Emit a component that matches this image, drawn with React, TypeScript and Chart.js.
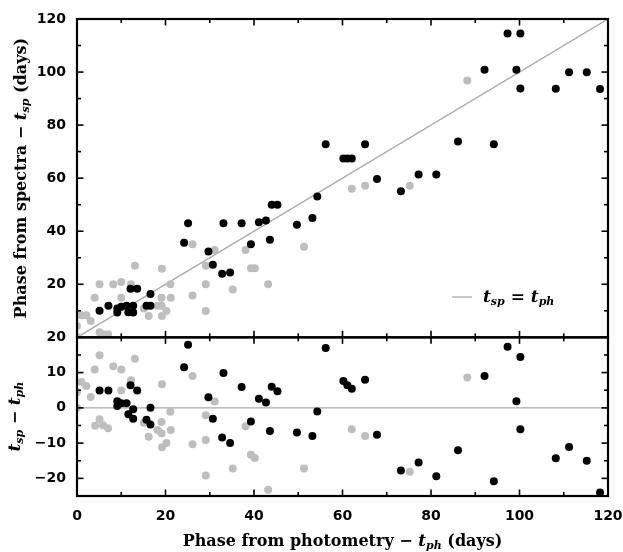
import React, { useEffect, useRef } from 'react';
import { Chart, registerables } from 'chart.js';

Chart.register(...registerables);

// ---------- data ----------
// black points: phase from photometry, phase from spectra, residual (t_sp - t_ph)
const blackPhot = [5.1, 7.1, 9.1, 9.1, 10.0, 11.2, 11.6, 12.7, 12.7, 12.1, 13.6, 15.7, 16.6, 16.6, 24.2, 25.1, 29.7, 30.7, 32.8, 34.6, 33.1, 37.2, 39.3, 41.1, 42.7, 43.6, 44.0, 45.3, 49.7, 53.2, 54.3, 56.2, 60.2, 61.1, 62.1, 65.1, 67.8, 73.2, 77.2, 81.2, 86.1, 92.1, 94.2, 97.3, 100.2, 99.3, 100.2, 108.2, 111.2, 115.2, 118.2];
const blackSpec = [10.0, 11.9, 10.9, 9.4, 11.5, 11.9, 9.5, 11.9, 9.4, 18.3, 18.3, 11.9, 11.9, 16.3, 35.7, 43.0, 32.4, 27.4, 24.0, 24.4, 43.0, 43.0, 35.1, 43.4, 44.0, 36.8, 50.0, 50.0, 42.4, 45.0, 53.1, 72.8, 67.4, 67.4, 67.4, 72.8, 59.7, 55.1, 61.4, 61.4, 73.8, 100.9, 72.8, 114.5, 114.5, 100.9, 93.8, 93.7, 99.9, 99.9, 93.6];
const blackResid = [4.9, 4.9, 1.9, 0.5, 1.3, 1.3, -1.8, -0.4, -3.1, 6.4, 4.9, -3.4, -4.7, 0.0, 11.5, 17.9, 3.0, -3.1, -8.4, -10.0, 9.9, 5.9, -3.9, 2.6, 1.5, -6.6, 6.0, 4.7, -7.0, -8.0, -1.0, 17.0, 7.6, 6.4, 5.4, 8.0, -7.6, -17.8, -15.5, -19.4, -12.0, 9.0, -20.8, 17.3, 14.4, 1.9, -6.1, -14.3, -11.1, -15.0, -24.0];

// grey points
const greyPhot = [0.0, 0.0, 1.0, 2.1, 3.1, 4.0, 5.1, 5.1, 4.1, 5.9, 7.0, 8.2, 10.0, 12.2, 10.0, 13.1, 15.1, 16.2, 18.2, 19.1, 19.1, 19.2, 19.2, 20.2, 21.1, 21.2, 26.1, 26.1, 29.1, 29.1, 29.1, 31.1, 35.2, 38.1, 39.3, 40.2, 43.2, 51.3, 62.1, 65.1, 75.2, 88.2];
const greySpec = [0.0, 4.3, 8.3, 8.3, 6.2, 14.9, 20.0, 1.9, -1.0, 1.2, 1.2, 20.0, 20.9, 20.0, 14.9, 27.0, 10.9, 8.0, 11.9, 11.9, 14.9, 25.9, 8.0, 9.9, 20.0, 14.9, 35.1, 15.8, 27.0, 20.0, 9.9, 32.9, 18.0, 32.9, 26.0, 26.0, 20.0, 34.1, 56.0, 57.1, 57.1, 96.8];
const greyResid = [0.0, 4.4, 7.3, 6.2, 3.1, 10.9, 14.9, -3.2, -5.1, -4.9, -5.8, 11.8, 10.9, 7.8, 4.9, 13.9, -4.2, -8.2, -6.3, -7.2, -4.0, 6.7, -11.2, -10.0, -1.1, -6.3, 9.0, -10.3, -2.1, -9.1, -19.2, 1.8, -17.2, -5.2, -13.3, -14.2, -23.2, -17.2, -6.1, -8.0, -18.1, 8.6];

// reference lines
const equalityLineX = [0, 120];
const equalityLineY = [0, 120];
const zeroLineX = [0, 120];
const zeroLineY = [0, 0];

// ticks
const xTickValues = [0, 20, 40, 60, 80, 100, 120];
const xMinorValues = [10, 30, 50, 70, 90, 110];
const mainTickValues = [20, 40, 60, 80, 100, 120];
const mainMinorValues = [10, 30, 50, 70, 90, 110];
const residTickValues = [-20, -10, 0, 10, 20];
const residMinorValues = [-25, -15, -5, 5, 15];

const GREY = '#bebebe';
const LINE_GREY = '#a9a9a9';
const TICK_FONT = { family: '"DejaVu Sans", sans-serif', size: 14, weight: 'bold' as const };
const TITLE_FONT = 'bold 16px "DejaVu Serif", serif';
const MATH_FONT = 'italic bold 17px "DejaVu Serif", serif';
const SUB_FONT = 'italic bold 11px "DejaVu Serif", serif';
const DOT_R = 4;

const pts = (xs: number[], ys: number[]) => xs.map((x, i) => ({ x, y: ys[i] }));

type Seg = { t: string; font: string; dy?: number };

function drawRich(ctx: CanvasRenderingContext2D, segs: Seg[], cx: number, cy: number, rot: number, align: 'center' | 'left') {
  ctx.save();
  ctx.translate(cx, cy);
  ctx.rotate(rot);
  let w = 0;
  for (const s of segs) {
    ctx.font = s.font;
    w += ctx.measureText(s.t).width;
  }
  let x = align === 'center' ? -w / 2 : 0;
  ctx.textBaseline = 'alphabetic';
  ctx.textAlign = 'left';
  ctx.fillStyle = '#000';
  for (const s of segs) {
    ctx.font = s.font;
    ctx.fillText(s.t, x, s.dy || 0);
    x += ctx.measureText(s.t).width;
  }
  ctx.restore();
}

const decorPlugin = {
  id: 'decor',
  afterDraw(chart: any) {
    const ctx: CanvasRenderingContext2D = chart.ctx;
    const xs = chart.scales.x;
    const yM = chart.scales.yMain;
    const yR = chart.scales.yRes;
    ctx.save();
    ctx.strokeStyle = '#000';
    const seg = (x1: number, y1: number, x2: number, y2: number) => {
      ctx.beginPath();
      ctx.moveTo(x1, y1);
      ctx.lineTo(x2, y2);
      ctx.stroke();
    };
    const panels: [any, number[], number[]][] = [
      [yM, mainTickValues, mainMinorValues],
      [yR, residTickValues, residMinorValues],
    ];
    const L = xs.left, R = xs.right;
    for (const [ys, major, minor] of panels) {
      const T = ys.top, B = ys.bottom;
      ctx.lineWidth = 1.6;
      const xt = (v: number, len: number) => {
        const p = xs.getPixelForValue(v);
        seg(p, B, p, B - len);
        seg(p, T, p, T + len);
      };
      xTickValues.forEach((v) => xt(v, 6.5));
      xMinorValues.forEach((v) => xt(v, 4));
      const yt = (v: number, len: number) => {
        const p = ys.getPixelForValue(v);
        if (p < T - 0.5 || p > B + 0.5) return;
        seg(L, p, L + len, p);
        seg(R, p, R - len, p);
      };
      major.forEach((v) => yt(v, 6.5));
      minor.forEach((v) => yt(v, 4));
      ctx.lineWidth = 2.2;
      ctx.strokeRect(L, T, R - L, B - T);
    }
    ctx.restore();

    // axis titles
    const cx = (xs.left + xs.right) / 2;
    drawRich(ctx, [
      { t: 'Phase from photometry \u2212 ', font: TITLE_FONT },
      { t: 't', font: MATH_FONT },
      { t: 'ph', font: SUB_FONT, dy: 3 },
      { t: ' (days)', font: TITLE_FONT },
    ], cx, 546, 0, 'center');
    drawRich(ctx, [
      { t: 'Phase from spectra \u2212 ', font: TITLE_FONT },
      { t: 't', font: MATH_FONT },
      { t: 'sp', font: SUB_FONT, dy: 3 },
      { t: ' (days)', font: TITLE_FONT },
    ], 26, (yM.top + yM.bottom) / 2, -Math.PI / 2, 'center');
    drawRich(ctx, [
      { t: 't', font: MATH_FONT },
      { t: 'sp', font: SUB_FONT, dy: 3 },
      { t: ' \u2212 ', font: TITLE_FONT },
      { t: 't', font: MATH_FONT },
      { t: 'ph', font: SUB_FONT, dy: 3 },
    ], 20, (yR.top + yR.bottom) / 2, -Math.PI / 2, 'center');

    // legend
    ctx.save();
    ctx.strokeStyle = LINE_GREY;
    ctx.lineWidth = 1.3;
    seg(452, 297, 472, 297);
    ctx.restore();
    drawRich(ctx, [
      { t: 't', font: 'italic bold 17px "DejaVu Serif", serif' },
      { t: 'sp', font: 'italic bold 11px "DejaVu Serif", serif', dy: 3 },
      { t: ' = ', font: 'bold 17px "DejaVu Serif", serif' },
      { t: 't', font: 'italic bold 17px "DejaVu Serif", serif' },
      { t: 'ph', font: 'italic bold 11px "DejaVu Serif", serif', dy: 3 },
    ], 483, 302, 0, 'left');
  },
};

export default function App() {
  const ref = useRef<HTMLCanvasElement | null>(null);
  useEffect(() => {
    document.body.style.margin = '0';
    const canvas = ref.current;
    if (!canvas) return;
    const dot = (data: any, yAxisID: string, color: string) => ({
      data,
      yAxisID,
      backgroundColor: color,
      borderWidth: 0,
      pointRadius: DOT_R,
      clip: 0,
    });
    const chart = new Chart(canvas, {
      type: 'scatter',
      data: {
        datasets: [
          { label: 'black', ...dot(pts(blackPhot, blackSpec), 'yMain', '#000') },
          { label: 'black resid', ...dot(pts(blackPhot, blackResid), 'yRes', '#000') },
          { label: 'grey', ...dot(pts(greyPhot, greySpec), 'yMain', GREY) },
          { label: 'grey resid', ...dot(pts(greyPhot, greyResid), 'yRes', GREY) },
          {
            type: 'line',
            label: 'tsp = tph',
            data: pts(equalityLineX, equalityLineY),
            yAxisID: 'yMain',
            borderColor: LINE_GREY,
            borderWidth: 1.3,
            pointRadius: 0,
            clip: 0,
          } as any,
          {
            type: 'line',
            label: 'zero',
            data: pts(zeroLineX, zeroLineY),
            yAxisID: 'yRes',
            borderColor: LINE_GREY,
            borderWidth: 1.3,
            pointRadius: 0,
            clip: 0,
          } as any,
        ] as any,
      },
      options: {
        animation: false,
        responsive: false,
        layout: { padding: { left: 0, right: 15, top: 19, bottom: 0 } },
        plugins: { legend: { display: false }, tooltip: { enabled: false } },
        scales: {
          x: {
            type: 'linear',
            min: 0,
            max: 120,
            grid: { display: false, drawTicks: false },
            border: { display: false },
            afterBuildTicks: (s: any) => { s.ticks = xTickValues.map((v) => ({ value: v })); },
            afterFit: (s: any) => { s.height = 56; s.paddingLeft = 0; s.paddingRight = 0; },
            ticks: { font: TICK_FONT, color: '#000', padding: 12, maxRotation: 0 },
          },
          yRes: {
            type: 'linear',
            position: 'left',
            stack: 'panels',
            stackWeight: 158.5,
            min: -25,
            max: 20,
            grid: { display: false, drawTicks: false },
            border: { display: false },
            afterBuildTicks: (s: any) => { s.ticks = residTickValues.map((v) => ({ value: v })); },
            afterFit: (s: any) => { s.width = 77; s.paddingTop = 0; s.paddingBottom = 0; },
            ticks: {
              font: TICK_FONT,
              color: '#000',
              padding: 11,
              callback: (v: any) => (Number(v) < 0 ? '\u2212' + Math.abs(Number(v)) : String(v)),
            },
          },
          yMain: {
            type: 'linear',
            position: 'left',
            stack: 'panels',
            stackWeight: 318,
            min: 0,
            max: 120,
            grid: { display: false, drawTicks: false },
            border: { display: false },
            afterBuildTicks: (s: any) => { s.ticks = mainTickValues.map((v) => ({ value: v })); },
            afterFit: (s: any) => { s.width = 77; s.paddingTop = 0; s.paddingBottom = 0; },
            ticks: { font: TICK_FONT, color: '#000', padding: 11 },
          },
        } as any,
      },
      plugins: [decorPlugin],
    });
    return () => chart.destroy();
  }, []);
  return (
    <div style={{ width: 623, height: 552 }}>
      <canvas ref={ref} width={623} height={552} style={{ display: 'block', width: 623, height: 552 }} />
    </div>
  );
}
